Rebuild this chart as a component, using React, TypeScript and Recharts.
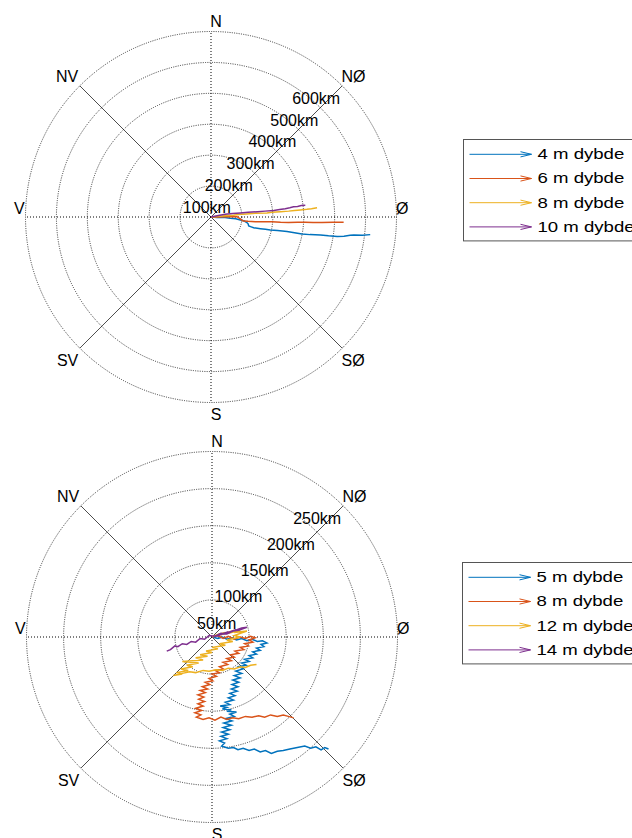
import React from 'react';
import {
  RadarChart,
  PolarGrid,
  PolarAngleAxis,
  PolarRadiusAxis,
  ScatterChart,
  Scatter,
  XAxis,
  YAxis,
} from 'recharts';

type Track = [number, number][];

const DIRECTIONS = ['N', 'NØ', 'Ø', 'SØ', 'S', 'SV', 'V', 'NV'];
const COLORS = ['#0072BD', '#D95319', '#EDB120', '#7E2F8E'];

// upper diagram: displacement east/north in km
const upperDepths = ['4 m dybde', '6 m dybde', '8 m dybde', '10 m dybde'];
const upper4m: Track = [
  [0, 0], [20, -2], [40, -1], [62, -4], [80, -6], [95, -10], [108, -13], [116, -18],
  [120, -22], [122, -29], [130, -32], [138, -35], [160, -38], [176, -40], [192, -42],
  [215, -44], [246, -47], [270, -51], [294, -55], [320, -57], [354, -58], [380, -61],
  [408, -63], [430, -62], [450, -59], [462, -58], [490, -59], [515, -57],
];
const upper6m: Track = [
  [0, 0], [25, 0], [50, 1], [70, 1], [84, 1], [90, -3], [95, -6], [100, -10], [105, -13],
  [120, -14], [143, -15], [170, -15], [197, -15], [225, -17], [251, -18], [280, -17],
  [305, -17], [330, -18], [359, -18], [395, -17], [429, -17],
];
const upper8m: Track = [
  [0, 0], [20, 2], [46, 4], [73, 6], [89, 8], [115, 10], [143, 12], [181, 13], [197, 15],
  [225, 17], [251, 19], [270, 21], [289, 23], [310, 25], [325, 27], [343, 30],
];
const upper10m: Track = [
  [0, 0], [20, 4], [46, 9], [70, 11], [95, 13], [120, 15], [150, 17], [175, 19], [203, 21],
  [222, 24], [240, 27], [255, 30], [267, 33], [280, 34], [292, 37], [305, 38],
];

// lower diagram
const lowerDepths = ['5 m dybde', '8 m dybde', '12 m dybde', '14 m dybde'];
const lower5m: Track = [
  [0, 0], [8, -2], [14, 0], [20, -3], [27, -1], [33, -4], [40, -2], [47, -5], [54, -3],
  [61, -6], [68, -5], [74, -8],
  [66, -10], [70, -13], [60, -15], [65, -18], [55, -20], [60, -23], [50, -25], [55, -28],
  [44, -30], [50, -33], [40, -35], [46, -38], [36, -40], [42, -43], [32, -46], [40, -49],
  [30, -52], [38, -55], [28, -58], [36, -61], [27, -64], [35, -67], [26, -70], [34, -73],
  [24, -76], [31, -79], [22, -82], [29, -85], [18, -88], [24, -91], [11, -93],
  [20, -95], [14, -97], [26, -98], [20, -100], [33, -101], [24, -104], [30, -107], [18, -110],
  [27, -113], [16, -116], [26, -119], [15, -122], [24, -125], [13, -128], [22, -131],
  [12, -134], [20, -137], [10, -140], [17, -143], [13, -147],
  [22, -150], [29, -149], [35, -152], [42, -150], [50, -153], [57, -151], [65, -155],
  [72, -153], [80, -157], [88, -154], [96, -153], [105, -151], [115, -149], [125, -147],
  [133, -150], [140, -148], [147, -152], [152, -149], [157, -151],
];
const lower8m: Track = [
  [0, 0], [8, 2], [15, -2], [22, 1], [30, -3], [38, 0], [45, -2], [52, 1], [58, -1],
  [50, -4], [55, -7], [44, -9], [49, -12], [38, -14], [43, -17], [31, -19], [36, -22],
  [25, -24], [30, -27], [20, -29], [26, -32], [15, -34], [21, -37], [10, -40], [15, -43],
  [4, -45], [10, -48], [0, -50], [6, -53], [-4, -56], [1, -59], [-9, -61], [-3, -64],
  [-13, -67], [-6, -70], [-16, -72], [-9, -75], [-19, -78], [-11, -81], [-18, -84],
  [-10, -87], [-19, -90], [-12, -93], [-22, -96], [-14, -99], [-23, -102], [-15, -105],
  [-21, -108], [-12, -111],
  [-4, -109], [4, -112], [12, -108], [20, -111], [28, -109], [36, -110], [45, -107],
  [54, -108], [63, -106], [71, -108], [79, -105], [88, -107], [96, -105], [103, -107],
  [110, -109],
];
const lower12m: Track = [
  [0, 0], [10, 4], [4, 2], [18, 6], [12, 3], [28, 8], [22, 5], [38, 9], [30, 6], [47, 8],
  [30, 2], [38, 0], [20, -4], [28, -6], [10, -9], [18, -11], [0, -14], [8, -16], [-8, -19],
  [0, -21], [-16, -24], [-6, -26], [-22, -28], [-12, -31], [-40, -33], [-18, -35],
  [-34, -38], [-26, -40], [-42, -43], [-32, -45], [-48, -48], [-40, -50], [-52, -52],
  [-40, -49], [-30, -47], [-22, -48], [-12, -45], [-4, -46], [6, -44], [14, -45],
  [22, -42], [30, -43], [38, -40], [45, -41], [52, -38], [60, -37],
];
const lower14m: Track = [
  [0, 0], [12, 4], [6, 1], [22, 7], [16, 4], [32, 10], [26, 7], [40, 12], [47, 13],
  [36, 9], [28, 8], [20, 4], [12, 5], [4, 1], [-4, 2], [-10, -3], [-16, -2], [-22, -7],
  [-28, -6], [-34, -10], [-40, -9], [-46, -13], [-50, -12], [-56, -17], [-61, -19],
];

const FONT = '"Liberation Sans", Arial, Helvetica, sans-serif';
const BOX = 424;
const RADIUS = 185.5;
const PAD = (BOX - 2 * RADIUS) / 2;

// nudges for the compass letters, relative to the default tick point
const LABEL_SHIFT: Record<string, [number, number]> = {
  N: [5, -2],
  'NØ': [5.7, -3.7],
  'Ø': [-2.3, -8.4],
  'SØ': [5.3, 6.5],
  S: [5, 4],
  SV: [-6.6, 6.4],
  V: [1.8, -8.2],
  NV: [-7, -3.6],
};

const AngleTick = (props: any) => {
  const { x, y, payload } = props;
  const [dx, dy] = LABEL_SHIFT[payload.value] ?? [0, 0];
  return (
    <text
      x={x + dx}
      y={y + dy}
      textAnchor="middle"
      dominantBaseline="central"
      fontSize={16}
      fontFamily={FONT}
      fill="#000"
    >
      {payload.value}
    </text>
  );
};

const RadiusTick = (props: any) => {
  const { x, y, payload } = props;
  if (!payload.value) return <g />;
  return (
    <text
      x={x - 2}
      y={y + 12.4}
      textAnchor="end"
      dominantBaseline="central"
      fontSize={16}
      fontFamily={FONT}
      fill="#000"
    >
      {`${payload.value}km`}
    </text>
  );
};

interface PanelProps {
  left: number;
  top: number;
  maxKm: number;
  tickCount: number;
  tracks: Track[];
  names: string[];
}

const PolarPanel: React.FC<PanelProps> = ({ left, top, maxKm, tickCount, tracks, names }) => (
  <div style={{ position: 'absolute', left, top, width: BOX, height: BOX }}>
    <div style={{ position: 'absolute', left: 0, top: 0 }}>
      <RadarChart
        width={BOX}
        height={BOX}
        data={DIRECTIONS.map((dir) => ({ dir }))}
        cx={BOX / 2}
        cy={BOX / 2}
        innerRadius={0}
        outerRadius={RADIUS}
        startAngle={90}
        endAngle={-270}
        margin={{ top: 0, right: 0, bottom: 0, left: 0 }}
      >
        <PolarGrid gridType="circle" radialLines={false} stroke="#222" strokeDasharray="1 1.3" strokeWidth={0.9} />
        <PolarGrid gridType="circle" polarAngles={[0, 90, 180, 270]} polarRadius={[]} stroke="#000" strokeDasharray="1 2" />
        <PolarGrid gridType="circle" polarAngles={[45, 135, 225, 315]} polarRadius={[]} stroke="#000" strokeWidth={0.7} />
        <PolarAngleAxis dataKey="dir" tick={<AngleTick />} tickLine={false} axisLine={false} />
        <PolarRadiusAxis
          angle={45}
          type="number"
          domain={[0, maxKm]}
          allowDataOverflow
          tickCount={tickCount}
          axisLine={false}
          tickLine={false}
          tick={<RadiusTick />}
        />
      </RadarChart>
    </div>
    <div style={{ position: 'absolute', left: 0, top: 0 }}>
      <ScatterChart width={BOX} height={BOX} margin={{ top: PAD, right: PAD, bottom: PAD, left: PAD }}>
        <XAxis type="number" dataKey="x" domain={[-maxKm, maxKm]} allowDataOverflow hide />
        <YAxis type="number" dataKey="y" domain={[-maxKm, maxKm]} allowDataOverflow hide />
        {tracks.map((track, i) => (
          <Scatter
            key={names[i]}
            name={names[i]}
            data={track.map(([x, y]) => ({ x, y }))}
            fill={COLORS[i]}
            line={{ stroke: COLORS[i], strokeWidth: 1.5 }}
            shape={() => <g />}
            isAnimationActive={false}
          />
        ))}
      </ScatterChart>
    </div>
  </div>
);

const DepthLegend: React.FC<{ left: number; top: number; names: string[] }> = ({ left, top, names }) => {
  const rowGap = 24.2;
  const height = 15.3 + rowGap * (names.length - 1) + 13.5;
  return (
    <svg style={{ position: 'absolute', left, top }} width={632 - left} height={height + 2}>
      <rect x={0.5} y={0.5} width={200} height={height} fill="#fff" stroke="#555" strokeWidth={1} />
      {names.map((name, i) => {
        const y = 15.3 + i * rowGap;
        return (
          <g key={name}>
            <line x1={6.5} y1={y} x2={68.5} y2={y} stroke={COLORS[i]} strokeWidth={1} />
            <polyline
              points={`57.5,${y - 2.6} 68.5,${y} 57.5,${y + 2.6}`}
              fill="none"
              stroke={COLORS[i]}
              strokeWidth={1}
            />
            <text
              transform={`translate(74.5 ${y}) scale(1.24 1)`}
              dominantBaseline="central"
              fontSize={15}
              fontFamily={FONT}
              fill="#000"
            >
              {name}
            </text>
          </g>
        );
      })}
    </svg>
  );
};

export default function App() {
  return (
    <div
      style={{
        position: 'absolute',
        left: 0,
        top: 0,
        width: 632,
        height: 838,
        overflow: 'hidden',
        background: '#fff',
        fontFamily: FONT,
      }}
    >
      <PolarPanel
        left={210.6 - BOX / 2}
        top={217 - BOX / 2}
        maxKm={600}
        tickCount={7}
        tracks={[upper4m, upper6m, upper8m, upper10m]}
        names={upperDepths}
      />
      <DepthLegend left={462.5} top={139.3} names={upperDepths} />
      <PolarPanel
        left={212 - BOX / 2}
        top={637.3 - BOX / 2}
        maxKm={250}
        tickCount={6}
        tracks={[lower5m, lower8m, lower12m, lower14m]}
        names={lowerDepths}
      />
      <DepthLegend left={461.7} top={561.7} names={lowerDepths} />
    </div>
  );
}
